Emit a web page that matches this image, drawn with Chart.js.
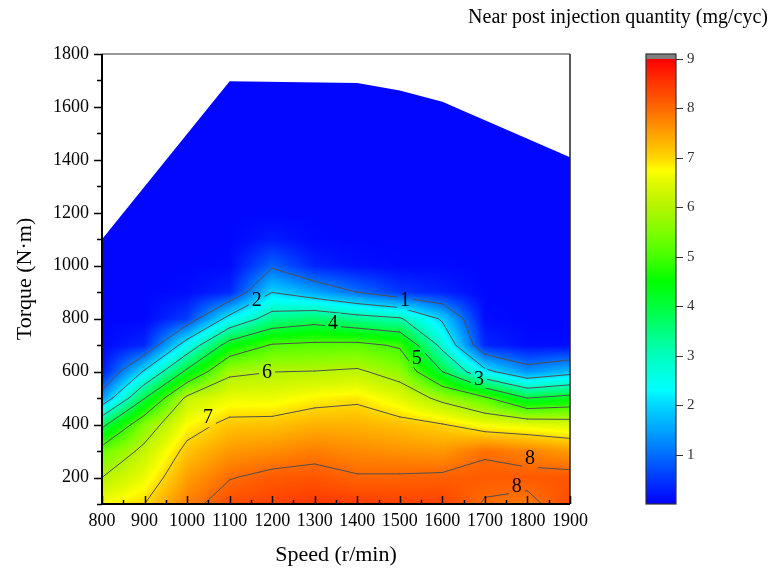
<!DOCTYPE html>
<html><head><meta charset="utf-8">
<script src="https://cdn.jsdelivr.net/npm/chart.js@4.4.0/dist/chart.umd.min.js"></script>
<style>html,body{margin:0;padding:0;background:#fff}canvas{display:block}</style>
</head><body>
<canvas id="c" width="774" height="571"></canvas>
<script>
// ---- data ----
const speeds  = [800,900,1000,1100,1200,1300,1400,1500,1600,1700,1800,1900];
const torques = [100,200,300,400,500,600,700,800,900,1000,1100,1200,1300,1400,1500,1600,1700];
const zT100  = [6.70,7.00,7.80,8.30,8.40,8.50,8.45,8.40,8.40,7.95,7.85,8.30];
const zT200  = [6.00,6.60,7.50,7.97,8.15,8.20,8.05,8.06,8.10,8.15,8.15,8.20];
const zT300  = [5.30,6.19,7.17,7.57,7.68,7.81,7.69,7.63,7.57,7.93,7.77,7.53];
const zT400  = [3.80,5.56,6.74,7.16,7.18,7.34,7.32,7.20,7.03,6.66,6.53,6.42];
const zT500  = [1.35,3.97,6.17,6.59,6.60,6.80,6.90,6.51,5.80,5.13,4.00,4.29];
const zT600  = [0.20,2.10,4.19,5.85,5.99,6.02,6.11,5.67,4.00,2.22,1.33,1.72];
const zT700  = [0.05,0.35,2.40,4.38,5.06,5.16,5.20,4.90,2.76,0.35,0.10,0.10];
const zT800  = [0.05,0.05,0.55,2.27,3.39,3.67,3.34,3.09,1.89,0.10,0.05,0.05];
const zT900  = [0.05,0.05,0.10,0.35,1.99,1.50,1.00,0.50,0.30,0.05,0.05,0.05];
const zT1000 = [0.05,0.05,0.05,0.08,0.90,0.30,0.15,0.08,0.08,0.05,0.05,0.05];
const zT1100 = [0.05,0.05,0.05,0.05,0.25,0.08,0.05,0.05,0.05,0.05,0.05,0.05];
const zT1200 = [0.05,0.05,0.05,0.05,0.05,0.05,0.05,0.05,0.05,0.05,0.05,0.05];
const zT1300 = [0.05,0.05,0.05,0.05,0.05,0.05,0.05,0.05,0.05,0.05,0.05,0.05];
const zT1400 = [0.05,0.05,0.05,0.05,0.05,0.05,0.05,0.05,0.05,0.05,0.05,0.05];
const zT1500 = [0.05,0.05,0.05,0.05,0.05,0.05,0.05,0.05,0.05,0.05,0.05,0.05];
const zT1600 = [0.05,0.05,0.05,0.05,0.05,0.05,0.05,0.05,0.05,0.05,0.05,0.05];
const zT1700 = [0.05,0.05,0.05,0.05,0.05,0.05,0.05,0.05,0.05,0.05,0.05,0.05];
const zGrid = [zT100,zT200,zT300,zT400,zT500,zT600,zT700,zT800,zT900,zT1000,zT1100,zT1200,zT1300,zT1400,zT1500,zT1600,zT1700];

// upper envelope of the measured region
const edgeSpeed  = [800,1100,1400,1500,1600,1900];
const edgeTorque = [1100,1697,1690,1662,1620,1410];

const contourLevels = [1,2,3,4,5,6,7,8];
const labelText   = ['1','2','3','4','5','6','7','8','8'];
const labelSpeed  = [1512,1164,1686,1343,1540,1188,1049,1806,1775];
const labelTorque = [870,870,575,783,654,598,428,273,170];

const xTickVals = [800,900,1000,1100,1200,1300,1400,1500,1600,1700,1800,1900];
const yTickVals = [200,400,600,800,1000,1200,1400,1600,1800];
const cbTickVals = [1,2,3,4,5,6,7,8,9];

// colour map (style)
const cmapStops  = [0,0.5,1,1.5,2,2.3,3,3.5,4,4.5,5,5.5,6,6.5,6.75,7,7.5,8,8.5,9];
const cmapColors = [[0,0,255],[0,55,255],[0,110,255],[0,165,255],[0,215,255],[0,255,255],[0,255,190],[0,255,125],[0,255,60],[0,255,0],[70,255,0],[125,255,0],[180,245,0],[225,250,0],[255,255,0],[255,215,0],[255,160,0],[255,105,0],[255,55,0],[255,0,0]];

const FONT = "'Liberation Serif','Times New Roman',serif";

function cmap(v){
  if(v<=cmapStops[0]) return cmapColors[0];
  for(let k=1;k<cmapStops.length;k++){
    if(v<=cmapStops[k]){
      const t=(v-cmapStops[k-1])/(cmapStops[k]-cmapStops[k-1]);
      const a=cmapColors[k-1], b=cmapColors[k];
      return [a[0]+t*(b[0]-a[0]), a[1]+t*(b[1]-a[1]), a[2]+t*(b[2]-a[2])];
    }
  }
  return cmapColors[cmapColors.length-1];
}
function zAt(s,T){
  const ds=speeds[1]-speeds[0], dt=torques[1]-torques[0];
  let fi=(s-speeds[0])/ds, fj=(T-torques[0])/dt;
  fi=Math.max(0,Math.min(speeds.length-1.0001,fi));
  fj=Math.max(0,Math.min(torques.length-1.0001,fj));
  const i=Math.floor(fi), j=Math.floor(fj), u=fi-i, w=fj-j;
  const a=zGrid[j][i], b=zGrid[j][i+1], c=zGrid[j+1][i+1], d=zGrid[j+1][i];
  return a*(1-u)*(1-w)+b*u*(1-w)+c*u*w+d*(1-u)*w;
}
function contourSegments(level){
  const segs=[];
  for(let j=0;j<torques.length-1;j++){
    for(let i=0;i<speeds.length-1;i++){
      const x0=speeds[i],x1=speeds[i+1],y0=torques[j],y1=torques[j+1];
      const a=zGrid[j][i],b=zGrid[j][i+1],c=zGrid[j+1][i+1],d=zGrid[j+1][i];
      const pts=[];
      const edge=(p,q,P,Q)=>{
        if((p<level)!==(q<level)){const t=(level-p)/(q-p);pts.push([P[0]+t*(Q[0]-P[0]),P[1]+t*(Q[1]-P[1])]);}
        else pts.push(null);
      };
      edge(a,b,[x0,y0],[x1,y0]); edge(b,c,[x1,y0],[x1,y1]);
      edge(c,d,[x1,y1],[x0,y1]); edge(d,a,[x0,y1],[x0,y0]);
      const p=pts.filter(Boolean);
      if(p.length===2) segs.push(p);
      else if(p.length===4){
        const m=(a+b+c+d)/4;
        if((m<level)===(a<level)){segs.push([pts[0],pts[1]]);segs.push([pts[2],pts[3]]);}
        else {segs.push([pts[0],pts[3]]);segs.push([pts[1],pts[2]]);}
      }
    }
  }
  return segs;
}

const contourPlugin = {
  id:'contour',
  beforeDatasetsDraw(chart){
    const {ctx, chartArea:ca, scales:{x,y}} = chart;
    const L=Math.round(ca.left), Tp=Math.round(ca.top);
    const w=Math.round(ca.right)-L, h=Math.round(ca.bottom)-Tp;
    const off=document.createElement('canvas'); off.width=w; off.height=h;
    const octx=off.getContext('2d');
    const img=octx.createImageData(w,h);
    for(let py=0;py<h;py++){
      const T=y.getValueForPixel(Tp+py+0.5);
      for(let px=0;px<w;px++){
        const s=x.getValueForPixel(L+px+0.5);
        const col=cmap(zAt(s,T));
        const k=(py*w+px)*4;
        img.data[k]=col[0];img.data[k+1]=col[1];img.data[k+2]=col[2];img.data[k+3]=255;
      }
    }
    octx.putImageData(img,0,0);
    ctx.save();
    ctx.beginPath();
    ctx.moveTo(x.getPixelForValue(edgeSpeed[0]), y.getPixelForValue(torques[0]));
    for(let k=0;k<edgeSpeed.length;k++) ctx.lineTo(x.getPixelForValue(edgeSpeed[k]), y.getPixelForValue(edgeTorque[k]));
    ctx.lineTo(x.getPixelForValue(edgeSpeed[edgeSpeed.length-1]), y.getPixelForValue(torques[0]));
    ctx.closePath();
    ctx.clip();
    ctx.drawImage(off,L,Tp);

    // contour lines with gaps at labels
    ctx.font = "20px "+FONT;
    const boxes=[];
    for(let k=0;k<labelText.length;k++){
      const px=x.getPixelForValue(labelSpeed[k]), py=y.getPixelForValue(labelTorque[k]);
      const tw=ctx.measureText(labelText[k]).width;
      boxes.push([px-tw/2-3, py-10, tw+6, 20]);
    }
    ctx.save();
    ctx.beginPath();
    ctx.rect(ca.left,ca.top,ca.right-ca.left,ca.bottom-ca.top);
    boxes.forEach(b=>ctx.rect(b[0],b[1],b[2],b[3]));
    ctx.clip('evenodd');
    ctx.strokeStyle='#505050'; ctx.lineWidth=1; ctx.lineCap='round';
    contourLevels.forEach(lv=>{
      const segs=contourSegments(lv);
      ctx.beginPath();
      segs.forEach(sg=>{
        ctx.moveTo(x.getPixelForValue(sg[0][0]), y.getPixelForValue(sg[0][1]));
        ctx.lineTo(x.getPixelForValue(sg[1][0]), y.getPixelForValue(sg[1][1]));
      });
      ctx.stroke();
    });
    ctx.restore();
    ctx.restore();

    ctx.save();
    ctx.fillStyle='#000'; ctx.textAlign='center'; ctx.textBaseline='middle';
    ctx.font="20px "+FONT;
    for(let k=0;k<labelText.length;k++){
      ctx.fillText(labelText[k], x.getPixelForValue(labelSpeed[k]), y.getPixelForValue(labelTorque[k])+1);
    }
    ctx.restore();
  },
  afterDraw(chart){
    const {ctx, chartArea:ca, scales:{x,y,cb}} = chart;
    ctx.save();
    // frame
    ctx.lineWidth=1.5; ctx.strokeStyle='#777';
    ctx.beginPath(); ctx.moveTo(ca.left,ca.top); ctx.lineTo(ca.right,ca.top); ctx.stroke();
    ctx.strokeStyle='#222';
    ctx.beginPath(); ctx.moveTo(ca.right,ca.top); ctx.lineTo(ca.right,ca.bottom); ctx.stroke();
    ctx.lineWidth=2; ctx.strokeStyle='#000';
    ctx.beginPath(); ctx.moveTo(ca.left,ca.top); ctx.lineTo(ca.left,ca.bottom); ctx.lineTo(ca.right,ca.bottom); ctx.stroke();
    // x ticks (inward)
    ctx.lineWidth=1.5;
    ctx.beginPath();
    for(let v=x.min; v<=x.max; v+=50){
      const px=Math.round(x.getPixelForValue(v))+0.5;
      const len=(v%100===0)?8:4;
      ctx.moveTo(px,ca.bottom); ctx.lineTo(px,ca.bottom-len);
    }
    // y ticks (outward)
    for(let v=y.min; v<=y.max; v+=100){
      const py=Math.round(y.getPixelForValue(v))+0.5;
      const len=(v%200===0)?8:5;
      ctx.moveTo(ca.left,py); ctx.lineTo(ca.left-len,py);
    }
    ctx.stroke();

    // colour bar
    const bx=cb.left+76, bw=30;
    const y0=cb.getPixelForValue(0), y9=cb.getPixelForValue(9), yTop=cb.getPixelForValue(cb.max);
    for(let py=Math.floor(y9); py<Math.ceil(y0); py++){
      const v=cb.getValueForPixel(py+0.5);
      const c=cmap(v);
      ctx.fillStyle=`rgb(${c[0]|0},${c[1]|0},${c[2]|0})`;
      ctx.fillRect(bx,py,bw,1);
    }
    ctx.fillStyle='#808080';
    ctx.fillRect(bx,yTop,bw,y9-yTop);
    ctx.lineWidth=1.2; ctx.strokeStyle='#333';
    ctx.strokeRect(bx,yTop,bw,y0-yTop);
    ctx.beginPath();
    ctx.fillStyle='#333'; ctx.font="15px "+FONT; ctx.textAlign='left'; ctx.textBaseline='middle';
    cbTickVals.forEach(v=>{
      const py=Math.round(cb.getPixelForValue(v))+0.5;
      ctx.moveTo(bx+bw,py); ctx.lineTo(bx+bw+7,py);
      ctx.fillText(String(v), bx+bw+11, py);
    });
    ctx.stroke();
    ctx.restore();
  }
};

new Chart(document.getElementById('c'), {
  type:'scatter',
  data:{datasets:[{data:[], pointRadius:0}]},
  plugins:[contourPlugin],
  options:{
    responsive:false, animation:false, devicePixelRatio:1,
    layout:{padding:{left:0,right:6,top:0,bottom:0}},
    plugins:{
      legend:{display:false}, tooltip:{enabled:false},
      title:{display:true, text:'Near post injection quantity (mg/cyc)', align:'end',
        font:{family:FONT,size:20,weight:'normal'}, color:'#000', padding:{top:6,bottom:24}}
    },
    scales:{
      x:{type:'linear', position:'bottom', min:800, max:1900,
        afterBuildTicks:s=>{s.ticks=xTickVals.map(v=>({value:v}));},
        ticks:{font:{family:FONT,size:18}, color:'#000', padding:6, maxRotation:0, autoSkip:false, callback:v=>String(v)},
        grid:{display:false, drawTicks:false}, border:{display:false},
        title:{display:true, text:'Speed (r/min)', font:{family:FONT,size:22}, color:'#000', padding:{top:0,bottom:3}},
        afterFit:s=>{s.height=67;}},
      y:{type:'linear', position:'left', min:100, max:1800,
        afterBuildTicks:s=>{s.ticks=yTickVals.map(v=>({value:v}));},
        ticks:{font:{family:FONT,size:18}, color:'#000', padding:13, autoSkip:false, callback:v=>String(v)},
        grid:{display:false, drawTicks:false}, border:{display:false},
        title:{display:true, text:'Torque (N·m)', font:{family:FONT,size:22}, color:'#000', padding:{top:12,bottom:0}},
        afterFit:s=>{s.width=102;}},
      cb:{type:'linear', position:'right', min:0, max:9.1,
        ticks:{display:false}, grid:{display:false, drawTicks:false}, border:{display:false},
        afterFit:s=>{s.width=198;}}
    }
  }
});
</script>
</body></html>
